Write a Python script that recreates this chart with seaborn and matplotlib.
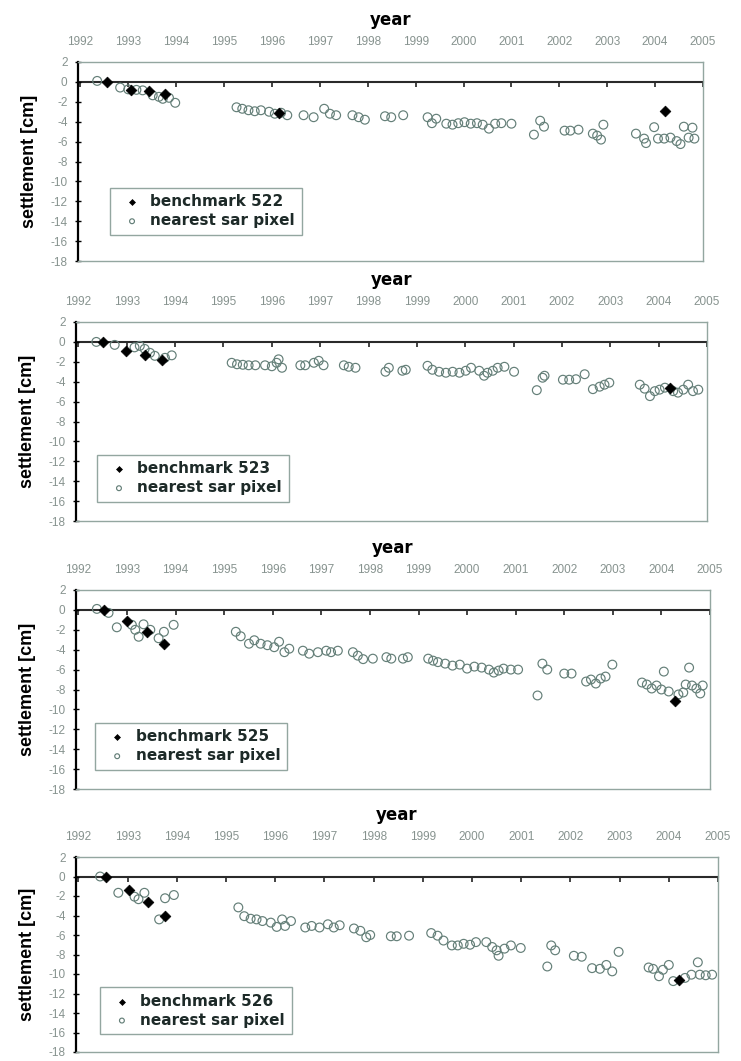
import matplotlib
matplotlib.use("Agg")
import matplotlib.pyplot as plt
import seaborn as sns

# axis ticks
years = list(range(1992, 2006))
yticks = list(range(-18, 3, 2))

# ---- benchmark 522 ----
bm522_year = [1992.55, 1993.06, 1993.43, 1993.77, 1996.15, 2004.21]
bm522_cm = [0.0, -0.85, -0.95, -1.25, -3.15, -2.9]
sar522_year = [1992.35, 1992.83, 1993.0, 1993.17, 1993.3, 1993.51, 1993.64, 1993.72, 1993.85, 1993.98,
               1995.26, 1995.38, 1995.51, 1995.64, 1995.77, 1995.94, 1996.06, 1996.19, 1996.32, 1996.66,
               1996.87, 1997.09, 1997.21, 1997.34, 1997.68, 1997.81, 1997.94, 1998.36, 1998.49, 1998.74,
               1999.25, 1999.34, 1999.43, 1999.64, 1999.77, 1999.89, 2000.02, 2000.15, 2000.28, 2000.4,
               2000.53, 2000.66, 2000.79, 2001.0, 2001.47, 2001.6, 2001.68, 2002.11, 2002.23, 2002.4,
               2002.7, 2002.79, 2002.87, 2002.92, 2003.6, 2003.77, 2003.81, 2003.98, 2004.06, 2004.19,
               2004.32, 2004.45, 2004.53, 2004.6, 2004.7, 2004.78, 2004.82]
sar522_cm = [0.1, -0.57, -0.75, -0.8, -0.85, -1.35, -1.5, -1.7, -1.6, -2.1,
             -2.55, -2.7, -2.85, -2.95, -2.85, -3.0, -3.2, -3.1, -3.35, -3.35,
             -3.55, -2.7, -3.2, -3.35, -3.35, -3.55, -3.8, -3.45, -3.55, -3.35,
             -3.55, -4.15, -3.7, -4.2, -4.3, -4.15, -4.05, -4.2, -4.15, -4.3,
             -4.7, -4.2, -4.15, -4.2, -5.3, -3.9, -4.5, -4.9, -4.9, -4.8,
             -5.2, -5.4, -5.8, -4.3, -5.2, -5.7, -6.15, -4.55, -5.7, -5.7,
             -5.6, -5.95, -6.25, -4.5, -5.6, -4.6, -5.7]

# ---- benchmark 523 ----
bm523_year = [1992.51, 1992.99, 1993.37, 1993.72, 2004.23]
bm523_cm = [0.0, -0.9, -1.35, -1.8, -4.6]
sar523_year = [1992.37, 1992.75, 1993.16, 1993.27, 1993.37, 1993.48, 1993.58, 1993.79, 1993.93,
               1995.17, 1995.28, 1995.4, 1995.52, 1995.66, 1995.86, 1996.0, 1996.1, 1996.14, 1996.21,
               1996.59, 1996.69, 1996.87, 1996.97, 1997.07, 1997.49, 1997.59, 1997.73, 1998.35, 1998.42,
               1998.7, 1998.77, 1999.22, 1999.32, 1999.46, 1999.6, 1999.74, 1999.88, 2000.01, 2000.12,
               2000.29, 2000.39, 2000.46, 2000.57, 2000.67, 2000.81, 2001.01, 2001.48, 2001.6, 2001.64,
               2002.02, 2002.15, 2002.29, 2002.47, 2002.64, 2002.78, 2002.88, 2002.98, 2003.61, 2003.71,
               2003.82, 2003.92, 2004.02, 2004.13, 2004.3, 2004.4, 2004.51, 2004.61, 2004.71, 2004.82]
sar523_cm = [0.0, -0.3, -0.55, -0.4, -0.7, -1.1, -1.4, -1.6, -1.35,
             -2.1, -2.25, -2.3, -2.35, -2.35, -2.35, -2.45, -2.1, -1.75, -2.6,
             -2.35, -2.35, -2.1, -1.9, -2.35, -2.35, -2.5, -2.6, -3.0, -2.6,
             -2.9, -2.8, -2.4, -2.8, -3.0, -3.1, -3.0, -3.1, -2.9, -2.6,
             -2.9, -3.4, -3.1, -2.9, -2.6, -2.5, -3.0, -4.85, -3.6, -3.4,
             -3.8, -3.8, -3.75, -3.25, -4.75, -4.5, -4.3, -4.1, -4.3, -4.7,
             -5.45, -4.95, -4.8, -4.6, -4.95, -5.1, -4.8, -4.3, -4.95, -4.8]

# ---- benchmark 525 ----
bm525_year = [1992.52, 1993.0, 1993.41, 1993.77, 2004.27]
bm525_cm = [0.0, -1.1, -2.2, -3.4, -9.2]
sar525_year = [1992.38, 1992.62, 1992.79, 1993.1, 1993.17, 1993.24, 1993.34, 1993.48, 1993.65, 1993.76,
               1993.96, 1995.24, 1995.34, 1995.51, 1995.62, 1995.75, 1995.89, 1996.03, 1996.13, 1996.24,
               1996.34, 1996.62, 1996.75, 1996.93, 1997.1, 1997.2, 1997.34, 1997.65, 1997.75, 1997.86,
               1998.06, 1998.34, 1998.44, 1998.68, 1998.78, 1999.2, 1999.3, 1999.4, 1999.55, 1999.7,
               1999.85, 2000.0, 2000.15, 2000.3, 2000.45, 2000.55, 2000.65, 2000.75, 2000.9, 2001.05,
               2001.45, 2001.55, 2001.65, 2002.0, 2002.15, 2002.45, 2002.55, 2002.65, 2002.75, 2002.85,
               2002.99, 2003.6, 2003.7, 2003.8, 2003.9, 2004.0, 2004.05, 2004.15, 2004.35, 2004.45,
               2004.5, 2004.57, 2004.63, 2004.72, 2004.8, 2004.85]
sar525_cm = [0.1, -0.3, -1.75, -1.5, -2.0, -2.7, -1.45, -2.0, -2.85, -2.2,
             -1.5, -2.2, -2.65, -3.4, -3.05, -3.4, -3.55, -3.75, -3.2, -4.25,
             -3.9, -4.1, -4.4, -4.25, -4.1, -4.25, -4.1, -4.25, -4.6, -4.95,
             -4.9, -4.75, -4.9, -4.9, -4.75, -4.9, -5.1, -5.25, -5.4, -5.6,
             -5.5, -5.9, -5.7, -5.8, -6.0, -6.3, -6.1, -5.9, -6.0, -6.0,
             -8.6, -5.4, -6.0, -6.4, -6.4, -7.2, -7.0, -7.4, -6.9, -6.7,
             -5.5, -7.3, -7.5, -7.9, -7.6, -8.0, -6.2, -8.2, -8.5, -8.3,
             -7.5, -5.8, -7.6, -7.9, -8.4, -7.6]

# ---- benchmark 526 ----
bm526_year = [1992.56, 1993.03, 1993.41, 1993.76, 2004.21]
bm526_cm = [0.0, -1.35, -2.65, -4.05, -10.6]
sar526_year = [1992.44, 1992.81, 1993.14, 1993.22, 1993.34, 1993.64, 1993.76, 1993.94,
               1995.25, 1995.37, 1995.5, 1995.62, 1995.74, 1995.91, 1996.03, 1996.14, 1996.2, 1996.32,
               1996.61, 1996.74, 1996.9, 1997.07, 1997.19, 1997.31, 1997.6, 1997.73, 1997.85, 1997.93,
               1998.35, 1998.47, 1998.72, 1999.17, 1999.3, 1999.42, 1999.59, 1999.71, 1999.83, 1999.96,
               2000.08, 2000.29, 2000.41, 2000.5, 2000.54, 2000.66, 2000.79, 2000.99, 2001.53, 2001.61,
               2001.69, 2002.07, 2002.23, 2002.44, 2002.6, 2002.73, 2002.85, 2002.98, 2003.59, 2003.68,
               2003.8, 2003.88, 2004.0, 2004.09, 2004.33, 2004.46, 2004.59, 2004.63, 2004.75, 2004.88]
sar526_cm = [0.0, -1.67, -2.07, -2.33, -1.67, -4.4, -2.23, -1.9,
             -3.17, -4.07, -4.33, -4.4, -4.57, -4.73, -5.17, -4.4, -5.07, -4.57,
             -5.23, -5.07, -5.23, -4.9, -5.23, -5.0, -5.33, -5.57, -6.23, -6.0,
             -6.13, -6.13, -6.07, -5.8, -6.07, -6.57, -7.07, -7.07, -6.9, -7.0,
             -6.73, -6.73, -7.23, -7.57, -8.13, -7.4, -7.07, -7.33, -9.23, -7.07,
             -7.57, -8.13, -8.23, -9.4, -9.47, -9.07, -9.73, -7.73, -9.33, -9.47,
             -10.23, -9.57, -9.07, -10.73, -10.4, -10.07, -8.8, -10.07, -10.13, -10.07]

benchmarks = ["522", "523", "525", "526"]
bench_years = [bm522_year, bm523_year, bm525_year, bm526_year]
bench_cms = [bm522_cm, bm523_cm, bm525_cm, bm526_cm]
sar_years = [sar522_year, sar523_year, sar525_year, sar526_year]
sar_cms = [sar522_cm, sar523_cm, sar525_cm, sar526_cm]

sns.set_theme(style="white")
plt.rcParams["font.family"] = ["Liberation Sans", "DejaVu Sans"]
plt.rcParams["axes.unicode_minus"] = False

SAR_EDGE = "#647f78"
FRAME = "#93a6a0"
TICK_TXT = "#87938f"

W, H = 741, 1061
fig = plt.figure(figsize=(W / 100, H / 100), dpi=100)
fig.patch.set_facecolor("white")

# panel frames in pixels: left, right, top, bottom
frames = [(78, 703, 62, 261), (76, 707, 322, 521), (76, 710, 590, 789), (76, 718, 857, 1052)]
legend_anchor = [(0.051, 0.13), (0.033, 0.095), (0.03, 0.095), (0.037, 0.09)]

for i, bid in enumerate(benchmarks):
    l, r, t, b = frames[i]
    ax = fig.add_axes([l / W, 1 - b / H, (r - l) / W, (b - t) / H])
    ax.set_facecolor("white")

    sns.scatterplot(x=sar_years[i], y=sar_cms[i], ax=ax, marker="o", s=40,
                    facecolor="none", edgecolor=SAR_EDGE, linewidth=0.85,
                    label="nearest sar pixel", zorder=3)
    sns.scatterplot(x=bench_years[i], y=bench_cms[i], ax=ax, marker="D", s=30,
                    color="black", edgecolor="black", linewidth=0.5,
                    label=f"benchmark {bid}", zorder=4)

    ax.set_xlim(1991.95, 2005)
    ax.set_ylim(-18, 2)

    # year labels along the top of the frame
    ax.xaxis.tick_top()
    ax.set_xticks(years)
    ax.set_xticklabels([str(y) for y in years])
    ax.tick_params(axis="x", top=True, bottom=False, length=0, pad=10,
                   labelsize=8.5, labelcolor=TICK_TXT)
    ax.xaxis.set_label_position("top")
    ax.set_xlabel("year", fontsize=12, fontweight="bold", family="DejaVu Sans",
                  labelpad=8, color="black")

    # settlement axis
    ax.set_yticks(yticks)
    ax.tick_params(axis="y", left=True, direction="inout", length=5, width=1,
                   color="black", pad=5, labelsize=8.5, labelcolor=TICK_TXT)
    ax.set_ylabel("settlement [cm]", fontsize=13, fontweight="bold",
                  labelpad=9, color="black")

    for side in ("top", "right", "bottom"):
        ax.spines[side].set_color(FRAME)
        ax.spines[side].set_linewidth(1.0)
    ax.spines["left"].set_color("black")
    ax.spines["left"].set_linewidth(1.6)

    # zero line carrying the yearly tick marks
    zero_axis = ax.secondary_xaxis(0, transform=ax.transData)
    zero_axis.set_xticks(years)
    zero_axis.set_xticklabels([])
    zero_axis.tick_params(direction="out", length=3.5, width=1.2, color="#222222")
    zero_axis.spines["bottom"].set_color("#2a2a2a")
    zero_axis.spines["bottom"].set_linewidth(1.5)

    handles, labels = ax.get_legend_handles_labels()
    leg = ax.legend([handles[1], handles[0]], [labels[1], labels[0]],
                    loc="lower left", bbox_to_anchor=legend_anchor[i], borderaxespad=0,
                    frameon=True, fancybox=False, framealpha=1, edgecolor=FRAME,
                    prop=dict(family="DejaVu Sans", weight="bold", size=11),
                    handlelength=2.0, handletextpad=0.2, borderpad=0.45,
                    labelspacing=0.25, markerscale=0.55)
    leg.get_frame().set_linewidth(1.0)
    for txt in leg.get_texts():
        txt.set_color("#1d2a28")

fig.savefig("out.png", dpi=100, facecolor="white")
